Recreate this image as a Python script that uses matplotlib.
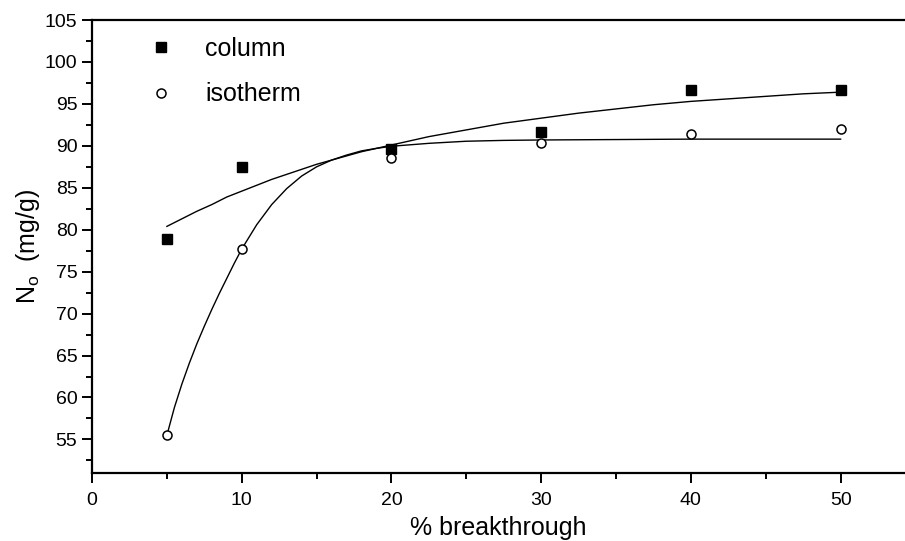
import numpy as np
import matplotlib
matplotlib.use('Agg')
import matplotlib.pyplot as plt
from matplotlib.ticker import MultipleLocator

plt.rcParams['font.family'] = ['Liberation Sans', 'DejaVu Sans']
plt.rcParams['mathtext.fontset'] = 'custom'
plt.rcParams['mathtext.rm'] = 'Liberation Sans'

# measured points
breakthrough = [5, 10, 20, 30, 40, 50]
column = [78.9, 87.5, 89.6, 91.6, 96.7, 96.7]
isotherm = [55.5, 77.7, 88.6, 90.3, 91.4, 92.0]

# fitted curves
col_fit_x = [5, 6, 7, 8, 9, 10, 11, 12, 13, 14, 15, 16, 17, 18, 19, 20,
             22.5, 25, 27.5, 30, 32.5, 35, 37.5, 40, 42.5, 45, 47.5, 50]
col_fit_y = [80.4, 81.3, 82.2, 83.0, 83.9, 84.6, 85.3, 86.0, 86.6, 87.2, 87.8, 88.3, 88.8, 89.3, 89.7, 90.1,
             91.1, 91.9, 92.7, 93.3, 93.9, 94.4, 94.9, 95.3, 95.6, 95.9, 96.2, 96.4]
iso_fit_x = [5, 5.5, 6, 6.5, 7, 7.5, 8, 8.5, 9, 9.5, 10, 11, 12, 13, 14, 15, 16, 17, 18, 19, 20,
             22.5, 25, 27.5, 30, 35, 40, 45, 50]
iso_fit_y = [55.5, 58.8, 61.6, 64.1, 66.4, 68.5, 70.5, 72.4, 74.2, 76.0, 77.7, 80.6, 83.0, 84.9, 86.4, 87.5, 88.3, 88.9, 89.4, 89.7, 89.95,
             90.3, 90.55, 90.65, 90.7, 90.75, 90.8, 90.8, 90.8]

fig = plt.figure(figsize=(9.05, 5.41), dpi=100)
ax = fig.add_axes([0.1017, 0.1257, 0.8983, 0.8373])

ax.plot(col_fit_x, col_fit_y, color='black', lw=1.0)
ax.plot(iso_fit_x, iso_fit_y, color='black', lw=1.0)
ax.plot(breakthrough, column, 's', color='black', ms=6.5, label='column')
ax.plot(breakthrough, isotherm, 'o', mfc='white', mec='black', mew=1.1, ms=6.5, label='isotherm')

ax.set_xlim(0, 54.3)
ax.set_ylim(51.0, 105)
ax.xaxis.set_major_locator(MultipleLocator(10))
ax.xaxis.set_minor_locator(MultipleLocator(5))
ax.yaxis.set_minor_locator(MultipleLocator(2.5))
ax.set_yticks([55, 60, 65, 70, 75, 80, 85, 90, 95, 100, 105])

ax.tick_params(which='major', direction='out', length=7, width=1.4, labelsize=14)
ax.tick_params(axis='x', which='major', pad=7)
ax.tick_params(which='minor', direction='out', length=4, width=1.4)
for s in ['left', 'bottom', 'top']:
    ax.spines[s].set_linewidth(1.6)
ax.spines['right'].set_visible(False)

ax.set_xlabel('% breakthrough', fontsize=18, labelpad=5)
ax.set_ylabel(r'N$_\mathregular{o}$  (mg/g)', fontsize=18, labelpad=2)

ax.legend(loc='upper left', bbox_to_anchor=(0.027, 1.012), frameon=False,
          fontsize=18, handletextpad=0.75, labelspacing=0.85, handlelength=2.0)

fig.savefig('out.png', dpi=100)
